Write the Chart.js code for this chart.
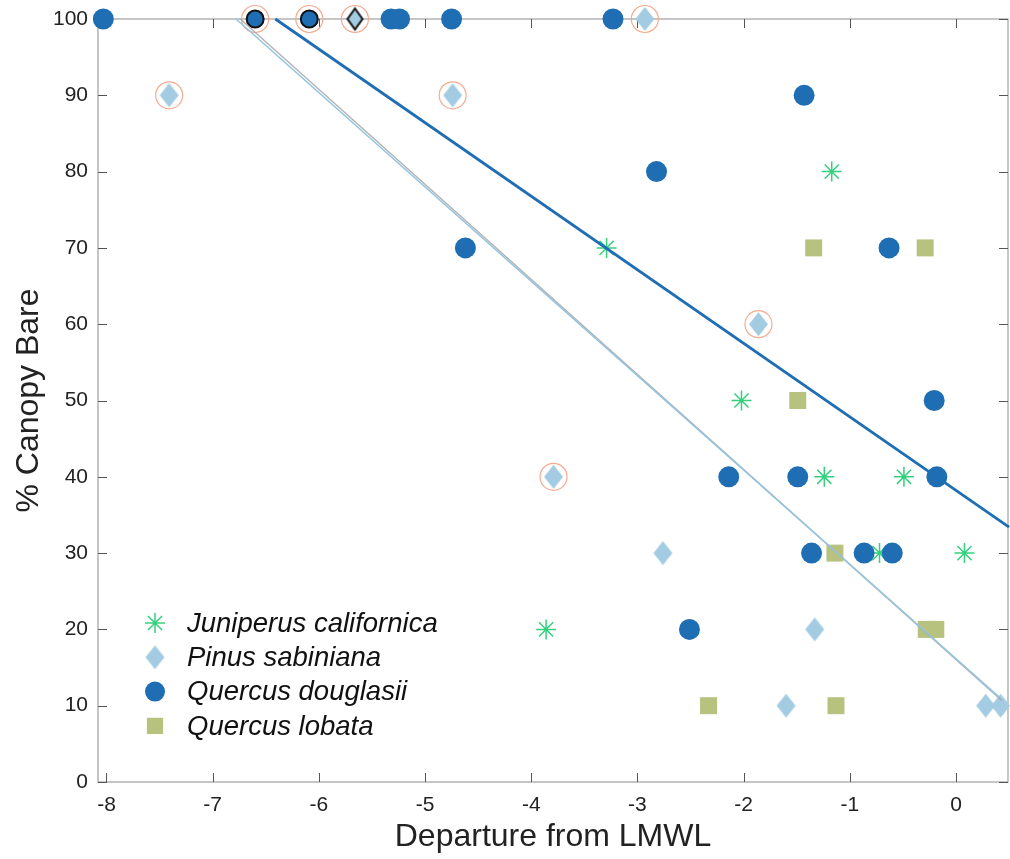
<!DOCTYPE html>
<html>
<head>
<meta charset="utf-8">
<script src="https://cdn.jsdelivr.net/npm/chart.js@4/dist/chart.umd.min.js"></script>
<style>
  html, body { margin: 0; padding: 0; background: #ffffff; }
  #wrap { width: 1010px; height: 859px; position: relative; }
</style>
</head>
<body>
<div id="wrap"><canvas id="c" width="1010" height="859"></canvas></div>
<script>
// ---------------- data ----------------
const speciesNames = ['Juniperus californica', 'Pinus sabiniana', 'Quercus douglasii', 'Quercus lobata'];

const juniperusX = [-1.17, -3.29, -2.02, -1.24, -0.49, -0.72, 0.08, -3.86];
const juniperusY = [80, 70, 50, 40, 40, 30, 30, 20];

const pinusX = [-2.93, -7.41, -4.74, -1.86, -3.79, -2.76, -1.33, -1.60, 0.28, 0.42];
const pinusY = [100, 90, 90, 60, 40, 30, 20, 10, 10, 10];

const douglasiiX = [-8.03, -5.32, -5.24, -4.75, -3.23, -1.43, -2.82, -4.62, -0.63, -0.205, -2.14, -1.49, -0.18, -1.36, -0.865, -0.60, -2.51];
const douglasiiY = [100, 100, 100, 100, 100, 90, 80, 70, 70, 50, 40, 40, 40, 30, 30, 30, 20];

const lobataX = [-1.34, -0.29, -1.49, -1.14, -0.28, -0.19, -2.33, -1.13];
const lobataY = [70, 70, 50, 30, 20, 20, 10, 10];

// points drawn with a black edge
const outlinedDouglasiiX = [-6.60, -6.09];
const outlinedDouglasiiY = [100, 100];
const outlinedPinusX = [-5.66];
const outlinedPinusY = [100];

// points marked with a ring
const ringX = [-6.60, -6.09, -5.66, -2.93, -7.41, -4.74, -1.86, -3.79];
const ringY = [100, 100, 100, 100, 90, 90, 60, 40];

// fitted lines (end points)
const fitDarkX = [-6.41, 0.5];
const fitDarkY = [100, 33.4];
const fitLightX = [-6.78, 0.41];
const fitLightY = [100, 11.1];
const fitGrayX = [-6.74, 0.43];
const fitGrayY = [100, 10.7];

const xTicks = [-8, -7, -6, -5, -4, -3, -2, -1, 0];
const yTicks = [0, 10, 20, 30, 40, 50, 60, 70, 80, 90, 100];
const xRange = [-8.08, 0.49];
const yRange = [0, 100];

const xTitle = 'Departure from LMWL';
const yTitle = '% Canopy Bare';

// ---------------- helpers ----------------
const pts = (xs, ys) => xs.map((x, i) => ({ x: x, y: ys[i] }));
const FONT = "'Liberation Sans', Arial, Helvetica, sans-serif";
const C_JUN = '#34d07e';
const C_PIN = '#a3cce3';
const C_DOU = '#1f6eb3';
const C_LOB = '#b7c27f';

function makeDiamond(w, h, fill, stroke, lw) {
  const pad = lw ? Math.ceil(lw) + 1 : 1;
  const cv = document.createElement('canvas');
  cv.width = w + 2 * pad; cv.height = h + 2 * pad;
  const g = cv.getContext('2d');
  const cx = cv.width / 2, cy = cv.height / 2;
  g.beginPath();
  g.moveTo(cx, cy - h / 2); g.lineTo(cx + w / 2, cy); g.lineTo(cx, cy + h / 2); g.lineTo(cx - w / 2, cy);
  g.closePath();
  g.fillStyle = fill; g.fill();
  if (lw) { g.strokeStyle = stroke; g.lineWidth = lw; g.stroke(); }
  return cv;
}
const pinusMarker = makeDiamond(19, 24, C_PIN, null, 0);
const pinusOutlinedMarker = makeDiamond(15, 21, C_PIN, '#111111', 2);

const boxPlugin = {
  id: 'matlabBox',
  beforeDatasetsDraw(chart) {
    const { ctx, chartArea: a, scales } = chart;
    ctx.save();
    ctx.strokeStyle = '#a0a0a0';
    ctx.lineWidth = 1.2;
    ctx.strokeRect(a.left, a.top, a.right - a.left, a.bottom - a.top);
    ctx.strokeStyle = '#555555';
    ctx.lineWidth = 1;
    const tl = 9;
    xTicks.forEach(v => {
      const px = Math.round(scales.x.getPixelForValue(v)) + 0.5;
      ctx.beginPath();
      ctx.moveTo(px, a.bottom); ctx.lineTo(px, a.bottom - tl);
      ctx.moveTo(px, a.top); ctx.lineTo(px, a.top + tl);
      ctx.stroke();
    });
    yTicks.forEach(v => {
      const py = Math.round(scales.y.getPixelForValue(v)) + 0.5;
      ctx.beginPath();
      ctx.moveTo(a.left, py); ctx.lineTo(a.left + tl, py);
      ctx.moveTo(a.right, py); ctx.lineTo(a.right - tl, py);
      ctx.stroke();
    });
    ctx.restore();
  }
};

function drawMarker(ctx, style, color, x, y, r) {
  ctx.save();
  ctx.fillStyle = color; ctx.strokeStyle = color;
  ctx.beginPath();
  if (style instanceof HTMLCanvasElement) {
    ctx.drawImage(style, x - style.width / 2, y - style.height / 2);
  } else if (style === 'star') {
    ctx.lineWidth = 1.5;
    for (let k = 0; k < 4; k++) {
      const ang = k * Math.PI / 4;
      ctx.moveTo(x - r * Math.cos(ang), y - r * Math.sin(ang));
      ctx.lineTo(x + r * Math.cos(ang), y + r * Math.sin(ang));
    }
    ctx.stroke();
  } else if (style === 'circle') {
    ctx.arc(x, y, r, 0, Math.PI * 2); ctx.fill();
  } else {
    const s = r * Math.SQRT1_2;
    ctx.rect(x - s, y - s, 2 * s, 2 * s); ctx.fill();
  }
  ctx.restore();
}

const legendPlugin = {
  id: 'insideLegend',
  afterDraw(chart) {
    const { ctx, chartArea: a } = chart;
    const items = chart.data.datasets.filter(d => d.inLegend);
    const x0 = a.left + 57;
    const y0 = a.bottom - 159;
    const step = 34.3;
    ctx.save();
    items.forEach((d, i) => {
      const y = y0 + i * step;
      drawMarker(ctx, d.pointStyle, d.inLegend, x0, y, d.pointStyle === 'rect' ? 11.5 : 10);
      ctx.fillStyle = '#111111';
      ctx.font = "italic 27.5px " + FONT;
      ctx.textBaseline = 'middle';
      ctx.textAlign = 'left';
      ctx.fillText(d.label, x0 + 32, y + 1);
    });
    ctx.restore();
  }
};

const cfg = {
  type: 'scatter',
  data: {
    datasets: [
      { label: 'fit dark', data: pts(fitDarkX, fitDarkY), showLine: true, borderColor: C_DOU, borderWidth: 2.8,
        pointRadius: 0, order: -1, clip: false },
      { label: 'fit light', data: pts(fitLightX, fitLightY), showLine: true, borderColor: '#96c4df', borderWidth: 1.6,
        pointRadius: 0, order: -2, clip: false },
      { label: 'fit gray', data: pts(fitGrayX, fitGrayY), showLine: true, borderColor: 'rgba(160,160,160,0.8)', borderWidth: 1.4,
        pointRadius: 0, order: -1, clip: false },
      { label: 'ring', data: pts(ringX, ringY), pointStyle: 'circle', pointRadius: 13.5,
        backgroundColor: 'rgba(255,255,255,0)', borderColor: '#f4ab90', pointBorderWidth: 1.2, order: 0, clip: false },
      { label: speciesNames[0], inLegend: C_JUN, data: pts(juniperusX, juniperusY), pointStyle: 'star', pointRadius: 10,
        borderColor: C_JUN, backgroundColor: C_JUN, pointBorderWidth: 1.5, order: 6, clip: false },
      { label: speciesNames[1], inLegend: C_PIN, data: pts(pinusX, pinusY), pointStyle: pinusMarker, pointRadius: 11,
        backgroundColor: C_PIN, borderColor: C_PIN, pointBorderWidth: 0, order: 5, clip: false },
      { label: speciesNames[2], inLegend: C_DOU, data: pts(douglasiiX, douglasiiY), pointStyle: 'circle', pointRadius: 10.5,
        backgroundColor: C_DOU, borderColor: C_DOU, pointBorderWidth: 0, order: 4, clip: false },
      { label: speciesNames[3], inLegend: C_LOB, data: pts(lobataX, lobataY), pointStyle: 'rect', pointRadius: 12,
        backgroundColor: C_LOB, borderColor: C_LOB, pointBorderWidth: 0, order: 3, clip: false },
      { label: 'douglasii outlined', data: pts(outlinedDouglasiiX, outlinedDouglasiiY), pointStyle: 'circle', pointRadius: 8.5,
        backgroundColor: C_DOU, borderColor: '#111111', pointBorderWidth: 2, order: 1, clip: false },
      { label: 'pinus outlined', data: pts(outlinedPinusX, outlinedPinusY), pointStyle: pinusOutlinedMarker, pointRadius: 10,
        backgroundColor: C_PIN, borderColor: '#111111', pointBorderWidth: 2, order: 1, clip: false }
    ]
  },
  options: {
    responsive: false,
    animation: false,
    devicePixelRatio: 1,
    layout: { autoPadding: false, padding: { left: 0, right: 2, top: 19, bottom: 0 } },
    plugins: { legend: { display: false }, tooltip: { enabled: false } },
    scales: {
      x: {
        type: 'linear', min: xRange[0], max: xRange[1],
        afterBuildTicks: s => { s.ticks = xTicks.map(v => ({ value: v })); },
        afterFit: s => { s.height = 77; s.paddingLeft = 0; s.paddingRight = 0; },
        grid: { display: false, drawTicks: false },
        border: { display: false },
        ticks: { font: { family: FONT, size: 21 }, color: '#222222', padding: 11, maxRotation: 0, autoSkip: false },
        title: { display: true, text: xTitle, font: { family: FONT, size: 32 }, color: '#222222', padding: { top: 0, bottom: 3 } }
      },
      y: {
        type: 'linear', min: yRange[0], max: yRange[1],
        afterBuildTicks: s => { s.ticks = yTicks.map(v => ({ value: v })); },
        afterFit: s => { s.width = 98; s.paddingTop = 0; s.paddingBottom = 0; },
        grid: { display: false, drawTicks: false },
        border: { display: false },
        ticks: { font: { family: FONT, size: 21 }, color: '#222222', padding: 10, autoSkip: false },
        title: { display: true, text: yTitle, font: { family: FONT, size: 32 }, color: '#222222', padding: { top: 10, bottom: 0 } }
      }
    }
  },
  plugins: [boxPlugin, legendPlugin]
};

new Chart(document.getElementById('c'), cfg);
</script>
</body>
</html>
